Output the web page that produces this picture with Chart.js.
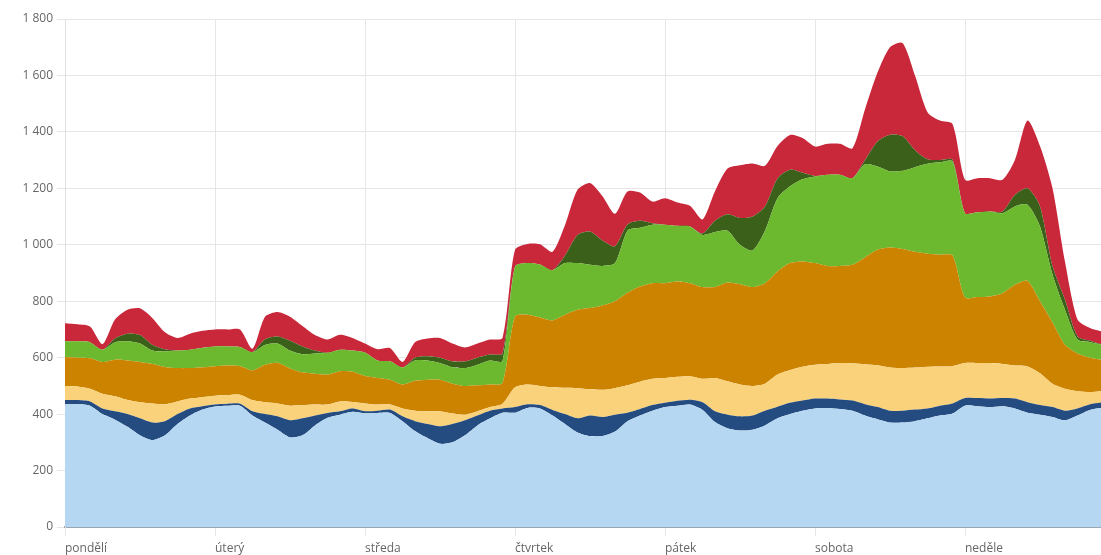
<!DOCTYPE html>
<html>
<head>
<meta charset="utf-8">
<script src="https://cdn.jsdelivr.net/npm/chart.js"></script>
<style>
    body { margin: 0; background: #fff; }
    #wrap { width: 1101px; height: 555px; }
</style>
</head>
<body>
<div id="wrap"><canvas id="weekChart"></canvas></div>
<script>
    // Day names for the x axis (one tick every 24 hours)
    const dayNames = ['pondělí', 'úterý', 'středa', 'čtvrtek', 'pátek', 'sobota', 'neděle'];

    // Sample times in hours from Monday 00:00, one sample every 2 hours
    const hours = Array.from({ length: 84 }, (_, i) => i * 2);

    // Stacked series, bottom to top
    const lightBlue = [
        435, 435, 430, 400, 380, 355, 325, 308, 325, 365, 395, 416,
        427, 430, 430, 395, 370, 345, 318, 325, 360, 387, 398, 408,
        403, 404, 404, 375, 340, 315, 295, 300, 325, 360, 385, 405,
        405, 422, 420, 395, 365, 335, 322, 322, 338, 375, 395, 412,
        425, 430, 434, 415, 372, 350, 342, 345, 360, 385, 400, 412,
        420, 422, 418, 412, 395, 382, 370, 370, 375, 385, 395, 402,
        430, 428, 425, 428, 420, 405, 398, 390, 378, 395, 415, 422
    ];
    const darkBlue = [
        15, 15, 15, 20, 30, 45, 60, 62, 50, 35, 25, 12,
        7, 7, 7, 15, 30, 47, 60, 60, 35, 17, 12, 12,
        7, 8, 12, 17, 35, 50, 62, 65, 53, 35, 27, 15,
        20, 13, 12, 20, 35, 50, 73, 68, 60, 30, 23, 20,
        15, 17, 17, 27, 38, 48, 50, 50, 52, 41, 40, 36,
        35, 33, 34, 36, 40, 43, 42, 42, 41, 35, 35, 36,
        27, 29, 30, 29, 35, 37, 34, 35, 34, 25, 20, 20
    ];
    const yellow = [
        50, 48, 45, 52, 53, 50, 57, 68, 60, 45, 35, 32,
        31, 31, 32, 40, 42, 46, 52, 47, 39, 30, 35, 23,
        28, 22, 18, 28, 37, 45, 53, 37, 20, 15, 13, 17,
        70, 70, 68, 80, 93, 107, 93, 96, 94, 97, 97, 93,
        88, 85, 83, 83, 118, 118, 113, 105, 96, 114, 116, 120,
        120, 123, 129, 132, 142, 148, 153, 151, 149, 148, 139, 132,
        124, 124, 126, 121, 117, 127, 113, 83, 78, 61, 43, 39
    ];
    const orange = [
        102, 102, 108, 113, 130, 140, 143, 140, 132, 118, 108, 106,
        105, 104, 101, 105, 133, 144, 132, 116, 109, 106, 107, 107,
        97, 94, 88, 85, 106, 112, 112, 106, 102, 92, 80, 73,
        251, 247, 242, 237, 259, 278, 288, 299, 308, 328, 337, 339,
        336, 338, 330, 325, 322, 350, 355, 350, 356, 365, 379, 373,
        360, 347, 344, 349, 378, 409, 425, 422, 410, 400, 396, 392,
        232, 234, 236, 250, 286, 303, 255, 217, 156, 134, 122, 111
    ];
    const lightGreen = [
        56, 58, 57, 43, 62, 68, 65, 47, 55, 62, 65, 69,
        70, 68, 68, 65, 70, 68, 63, 64, 72, 77, 76, 75,
        83, 62, 65, 60, 72, 68, 59, 58, 63, 73, 85, 78,
        177, 183, 188, 178, 183, 165, 153, 140, 135, 220, 208, 207,
        207, 197, 201, 185, 195, 184, 140, 130, 186, 260, 272, 291,
        307, 323, 323, 307, 330, 295, 270, 277, 300, 319, 327, 333,
        299, 300, 301, 284, 278, 270, 265, 170, 124, 49, 55, 54
    ];
    const darkGreen = [
        0, 0, 0, 0, 13, 27, 30, 20, 8, 0, 0, 0,
        0, 0, 0, 0, 20, 25, 35, 28, 10, 0, 0, 0,
        0, 0, 0, 0, 10, 15, 19, 21, 24, 25, 21, 27,
        0, 0, 0, 0, 27, 100, 118, 90, 60, 22, 25, 5,
        0, 0, 0, 5, 40, 58, 95, 120, 86, 70, 59, 23,
        2, 0, 0, 0, 15, 89, 130, 123, 60, 16, 8, 6,
        0, 0, 0, 6, 41, 58, 71, 30, 35, 11, 5, 0
    ];
    const red = [
        64, 60, 55, 20, 67, 85, 95, 95, 60, 45, 57, 60,
        60, 60, 62, 12, 80, 87, 85, 72, 55, 47, 53, 45,
        32, 40, 47, 20, 55, 63, 70, 63, 49, 50, 53, 55,
        59, 68, 72, 65, 108, 160, 172, 157, 115, 117, 100, 77,
        94, 83, 73, 50, 105, 162, 187, 188, 144, 115, 123, 123,
        104, 110, 110, 106, 180, 244, 310, 330, 265, 167, 140, 127,
        118, 121, 118, 112, 124, 240, 214, 275, 135, 60, 45, 46
    ];

    const yTicks = { min: 0, max: 1800, step: 200 };

    function area(label, data, color, fill) {
        return {
            label: label,
            data: data,
            backgroundColor: color,
            borderWidth: 0,
            pointRadius: 0,
            pointHoverRadius: 0,
            tension: 0.25,
            fill: fill
        };
    }

    // thousands separated by a space, e.g. 1 800
    function spaced(v) {
        return String(v).replace(/\B(?=(\d{3})+(?!\d))/g, ' ');
    }

    Chart.defaults.font.family = "'Open Sans', 'Liberation Sans', sans-serif";
    Chart.defaults.font.size = 12;
    Chart.defaults.color = '#666';

    const ctx = document.getElementById('weekChart').getContext('2d');
    new Chart(ctx, {
        type: 'line',
        data: {
            labels: hours,
            datasets: [
                area('A', lightBlue, '#b5d7f1', 'origin'),
                area('B', darkBlue, '#244c80', '-1'),
                area('C', yellow, '#f9d27b', '-1'),
                area('D', orange, '#cb8300', '-1'),
                area('E', lightGreen, '#6cb82e', '-1'),
                area('F', darkGreen, '#3a6019', '-1'),
                area('G', red, '#c9283b', '-1')
            ]
        },
        options: {
            responsive: true,
            maintainAspectRatio: false,
            animation: false,
            layout: { padding: { top: 19, right: 0, bottom: 0, left: 0 } },
            plugins: {
                legend: { display: false },
                tooltip: { enabled: false }
            },
            scales: {
                x: {
                    type: 'linear',
                    min: 0,
                    max: 165.76,
                    grid: { color: '#e6e6e6', tickLength: 9 },
                    border: { color: '#9aa6b2', width: 2 },
                    ticks: {
                        stepSize: 24,
                        includeBounds: false,
                        autoSkip: false,
                        maxRotation: 0,
                        align: 'start',
                        padding: 5,
                        callback: function(value) {
                            return dayNames[value / 24] || '';
                        }
                    },
                    afterFit: function(scale) { scale.height = 28; }
                },
                y: {
                    stacked: true,
                    min: yTicks.min,
                    max: yTicks.max,
                    grid: { color: '#e6e6e6', tickLength: 8 },
                    border: { color: '#e0e0e0' },
                    ticks: {
                        stepSize: yTicks.step,
                        padding: 4,
                        callback: function(value) { return spaced(value); }
                    },
                    afterFit: function(scale) { scale.width = 65; }
                }
            }
        }
    });
</script>
</body>
</html>
